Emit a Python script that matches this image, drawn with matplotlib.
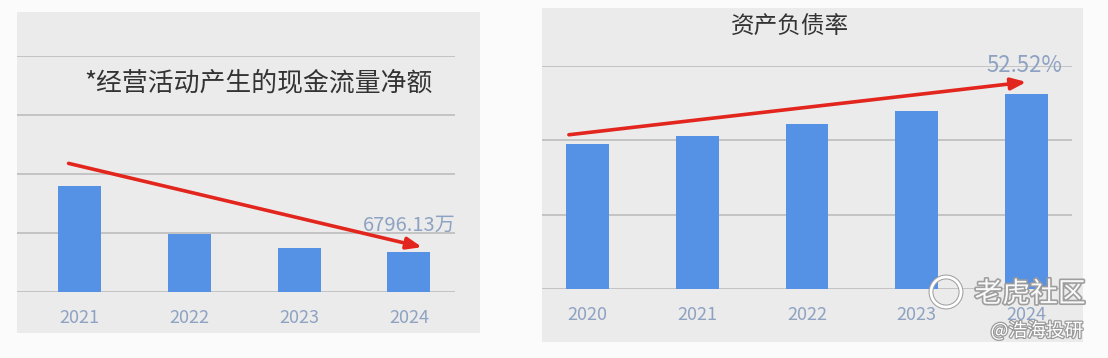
import matplotlib
matplotlib.use("Agg")
import matplotlib.pyplot as plt
from matplotlib.patches import Rectangle, Ellipse
import matplotlib.patheffects as pe

plt.rcParams['font.family'] = ['Noto Sans CJK SC', 'DejaVu Sans']

# ---- data ----
cf_years = ["2021", "2022", "2023", "2024"]
cf_values = [18000, 9800, 7500, 6796.13]          # 万元
cf_title = "*经营活动产生的现金流量净额"
cf_label = "6796.13万"

dr_years = ["2020", "2021", "2022", "2023", "2024"]
dr_values = [39.0, 41.2, 44.4, 47.9, 52.52]       # %
dr_title = "资产负债率"
dr_label = "52.52%"

W, H = 1108, 358
fig = plt.figure(figsize=(W / 100, H / 100), dpi=100)
fig.patch.set_facecolor("#fbfbfb")

BG = "#ebebeb"
BAR = "#5592e6"
GRID = "#bdbdbd"
TXT = "#8ea2c2"
RED = "#e3261d"


def px(x0, y0, x1, y1):
    """pixel box (top-left origin) -> figure fraction [l, b, w, h]"""
    return [x0 / W, 1 - y1 / H, (x1 - x0) / W, (y1 - y0) / H]


# gray panels
for (x0, y0, x1, y1) in [(17, 12, 480, 333), (542, 8, 1083, 342)]:
    l, b, w, h = px(x0, y0, x1, y1)
    fig.add_artist(Rectangle((l, b), w, h, transform=fig.transFigure,
                             facecolor=BG, edgecolor="none", zorder=0))


def style(ax, ymax, step, years):
    ax.set_facecolor("none")
    for s in ax.spines.values():
        s.set_visible(False)
    ax.set_ylim(0, ymax)
    ax.set_yticks([i * step for i in range(int(ymax / step) + 1)])
    ax.yaxis.grid(True, color=GRID, linewidth=1.2)
    ax.set_axisbelow(True)
    ax.tick_params(axis="y", left=False, labelleft=False)
    ax.tick_params(axis="x", bottom=False, labelsize=13, labelcolor=TXT, pad=9)
    ax.set_xticks(range(len(years)))
    ax.set_xticklabels(years)


# ---- left chart ----
ax1 = fig.add_axes(px(17, 56, 455, 292))
ax1.bar(range(len(cf_years)), cf_values, width=0.39, color=BAR, zorder=2)
ax1.set_xlim(-0.57, 3.42)
style(ax1, 40000, 10000, cf_years)
ax1.text(0.552, 0.886, cf_title, transform=ax1.transAxes, ha="center", va="center",
         fontsize=18.6, color="#333333")
ax1.text(3, cf_values[3] + 4500, cf_label, ha="center", va="center",
         fontsize=14.5, color=TXT, zorder=4)
ax1.annotate("", xy=(3.12, 7600), xytext=(-0.1, 21800),
             arrowprops=dict(arrowstyle="-|>,head_length=0.9,head_width=0.35",
                             color=RED, lw=2.6, shrinkA=0, shrinkB=0), zorder=5)

# ---- right chart ----
ax2 = fig.add_axes(px(542, 66, 1072, 289))
ax2.bar(range(len(dr_years)), dr_values, width=0.39, color=BAR, zorder=2)
ax2.set_xlim(-0.415, 4.415)
style(ax2, 60, 20, dr_years)
fig.text(790 / W, 1 - 27 / H, dr_title, ha="center", va="center",
         fontsize=17, color="#333333")
ax2.text(3.985, 60, dr_label, ha="center", va="center", fontsize=16,
         color=TXT, zorder=4)
ax2.annotate("", xy=(4.0, 55.7), xytext=(-0.17, 41.5),
             arrowprops=dict(arrowstyle="-|>,head_length=0.9,head_width=0.35",
                             color=RED, lw=2.6, shrinkA=0, shrinkB=0), zorder=5)

# ---- watermark ----
wm = [pe.withStroke(linewidth=2.4, foreground="#9a9a9a")]
fig.text(1030 / W, 1 - 294 / H, "老虎社区", ha="center", va="center",
         fontsize=20, color="white", path_effects=wm, alpha=0.95, zorder=10)
fig.add_artist(Ellipse((946 / W, 1 - 292 / H), 30 / W, 30 / H, transform=fig.transFigure,
                       facecolor="none", edgecolor="white", lw=2,
                       path_effects=[pe.withStroke(linewidth=3.5, foreground="#a0a0a0")],
                       zorder=10))
fig.text(1037 / W, 1 - 331 / H, "@浩海投研", ha="center", va="center",
         fontsize=13.5, color="white",
         path_effects=[pe.withStroke(linewidth=1.8, foreground="#9a9a9a")],
         zorder=10)

fig.savefig("out.png", dpi=100, facecolor=fig.get_facecolor())
